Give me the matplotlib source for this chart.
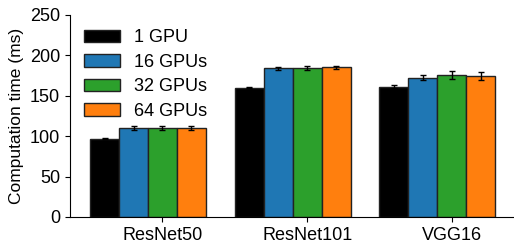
import numpy as np
import matplotlib
matplotlib.use('Agg')
import matplotlib.pyplot as plt

plt.rcParams['font.family'] = ['Liberation Sans', 'DejaVu Sans']

models = ['ResNet50', 'ResNet101', 'VGG16']
labels = ['1 GPU', '16 GPUs', '32 GPUs', '64 GPUs']
colors = ['black', '#1f77b4', '#2ca02c', '#ff7f0e']

# computation time (ms) per model, for each GPU count
times = [
    [97, 160, 161],
    [110, 184, 172],
    [110, 184, 176],
    [110, 185, 174],
]
errs = [
    [1, 1, 2],
    [2, 2, 3],
    [2, 2.5, 5],
    [2.5, 2, 5],
]

fig = plt.figure(figsize=(5.14, 2.44), dpi=100)
ax = fig.add_axes([0.136, 0.111, 0.864, 0.828])

x = np.arange(len(models))
w = 0.2
for i in range(len(labels)):
    ax.bar(x + (i - 2) * w, times[i], w, yerr=errs[i], color=colors[i],
           edgecolor='#222222', linewidth=1, label=labels[i],
           error_kw=dict(ecolor='black', elinewidth=1, capsize=2))

ax.set_xticks(x)
ax.set_xticklabels(models, fontsize=13)
ax.set_xlim(-0.64, 2.43)
ax.set_ylim(0, 250)
ax.set_yticks([0, 50, 100, 150, 200, 250])
ax.tick_params(axis='y', labelsize=13)
ax.set_ylabel('Computation time (ms)', fontsize=12.5)
ax.spines['top'].set_visible(False)
ax.spines['right'].set_visible(False)

ax.legend(loc='upper left', frameon=False, fontsize=13, handlelength=1.95,
          handleheight=0.7, labelspacing=0.42, handletextpad=0.8,
          borderaxespad=0.4, bbox_to_anchor=(0.0, 1.0))

fig.savefig('out.png', dpi=100)
